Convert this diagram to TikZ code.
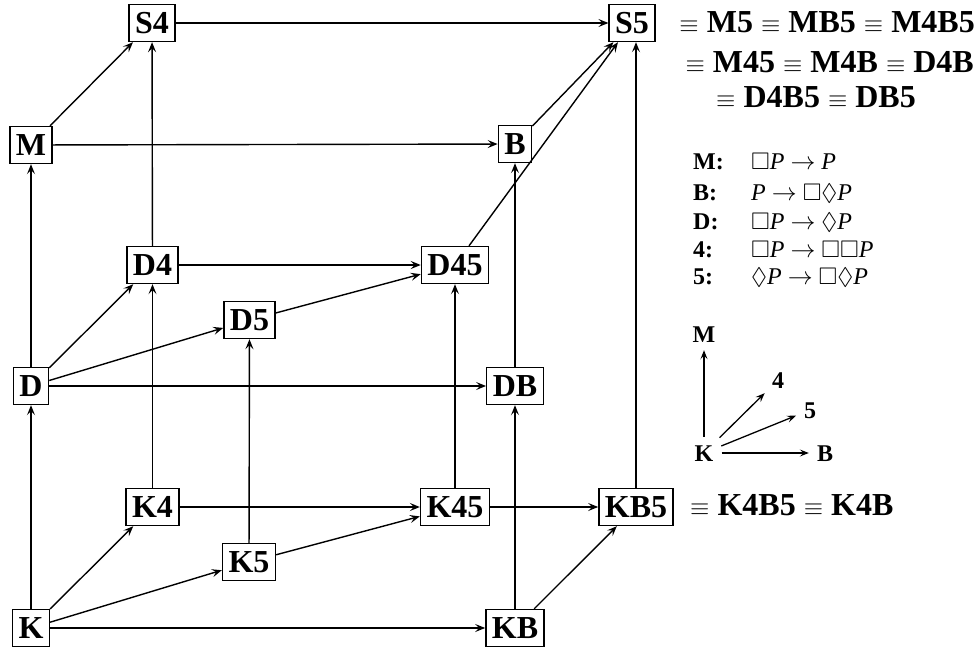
\documentclass[tikz,border=0pt]{standalone}
\usepackage{amssymb}
\usepackage{fontspec}
\setmainfont{Liberation Serif}
\usetikzlibrary{arrows.meta}
\begin{document}
\begin{tikzpicture}[x=1pt,y=-1pt,
  sys/.style={draw, line width=1.4pt, font=\fontsize{32}{36}\selectfont\bfseries,
    inner xsep=6pt, inner ysep=0pt, minimum height=37pt, text height=21pt, text depth=0pt},
  arr/.style={line width=1.4pt, -{Stealth[length=10pt,width=8pt,inset=4pt]}},
  eqv/.style={font=\fontsize{32}{36}\selectfont\bfseries, inner sep=0pt},
  leg/.style={font=\fontsize{24}{27}\selectfont\bfseries, inner sep=0pt, anchor=base west},
  legf/.style={font=\fontsize{24}{27}\selectfont, inner sep=0pt, anchor=base west},
  mini/.style={font=\fontsize{24}{27}\selectfont\bfseries, inner sep=5pt, text height=16pt, text depth=0pt},
  miniarr/.style={line width=1.3pt, shorten <=3pt, shorten >=3pt, -{Stealth[length=9pt,width=7pt,inset=3.5pt]}}
]
\useasboundingbox (0,0) rectangle (977,650);

% main nodes
\node[sys] (S4) at (152,23) {S4};
\node[sys] (S5) at (632,23) {S5};
\node[sys] (M) at (31,145) {M};
\node[sys] (B) at (515,144) {B};
\node[sys] (D4) at (152.5,265) {D4};
\node[sys] (D45) at (455,265) {D45};
\node[sys] (D5) at (249.5,320) {D5};
\node[sys] (D) at (31,386) {D};
\node[sys] (DB) at (515,386) {DB};
\node[sys] (K4) at (152.5,507) {K4};
\node[sys] (K45) at (455,507) {K45};
\node[sys] (KB5) at (636,507) {KB5};
\node[sys] (K5) at (249,562) {K5};
\node[sys] (K) at (31,628) {K};
\node[sys] (KB) at (515,628) {KB};

% connectors
\draw[arr] (S4) -- (S5);
\draw[arr] (M) -- (S4);
\draw[arr] (M) -- (B);
\draw[arr] (B) -- (S5);
\draw[arr] (D45) -- (S5);
\draw[arr] (KB5.north) -- (KB5.north |- S5.south);
\draw[arr] (D4) -- (S4);
\draw[arr] (D) -- (M);
\draw[arr] (DB) -- (B);
\draw[arr] (D) -- (D4);
\draw[arr] (D) -- (D5);
\draw[arr] (D) -- (DB);
\draw[arr] (D4) -- (D45);
\draw[arr] (D5) -- (D45);
\draw[arr] (K) -- (D);
\draw[arr] (K4) -- (D4);
\draw[arr] (K5) -- (D5);
\draw[arr] (K45) -- (D45);
\draw[arr] (KB) -- (DB);
\draw[arr] (K) -- (K4);
\draw[arr] (K) -- (K5);
\draw[arr] (K) -- (KB);
\draw[arr] (K4) -- (K45);
\draw[arr] (K5) -- (K45);
\draw[arr] (K45) -- (KB5);
\draw[arr] (KB) -- (KB5);

% equivalences
\node[eqv, anchor=base east] (e1) at (975,33) {$\equiv$ M5 $\equiv$ MB5 $\equiv$ M4B5};
\node[eqv, anchor=base east] (e2) at (974,73) {$\equiv$ M45 $\equiv$ M4B $\equiv$ D4B};
\node[eqv, anchor=base] (e3) at (816,108) {$\equiv$ D4B5 $\equiv$ DB5};
\node[eqv, anchor=base west] (e4) at (690,515) {$\equiv$ K4B5 $\equiv$ K4B};

% axiom legend
\node[leg] (lM) at (693,169) {M:};
\node[leg] (lB) at (693,200) {B:};
\node[leg] (lD) at (693,229) {D:};
\node[leg] (l4) at (693,257) {4:};
\node[leg] (l5) at (693,284) {5:};
\node[legf] (fM) at (751,169) {$\Box$\textit{P} $\rightarrow$ \textit{P}};
\node[legf] (fB) at (751,200) {\textit{P} $\rightarrow$ $\Box\Diamond$\textit{P}};
\node[legf] (fD) at (751,229) {$\Box$\textit{P} $\rightarrow$ $\Diamond$\textit{P}};
\node[legf] (f4) at (751,257) {$\Box$\textit{P} $\rightarrow$ $\Box\Box$\textit{P}};
\node[legf] (f5) at (751,284) {$\Diamond$\textit{P} $\rightarrow$ $\Box\Diamond$\textit{P}};

% mini direction diagram
\node[mini] (mK) at (704,453) {K};
\node[mini] (mM) at (704,334) {M};
\node[mini] (m4) at (778,380) {4};
\node[mini] (m5) at (810,410) {5};
\node[mini] (mB) at (825,453) {B};
\draw[miniarr] (mK) -- (mM);
\draw[miniarr] (mK) -- (m4);
\draw[miniarr] (mK) -- (m5);
\draw[miniarr] (mK) -- (mB);
\end{tikzpicture}
\end{document}
